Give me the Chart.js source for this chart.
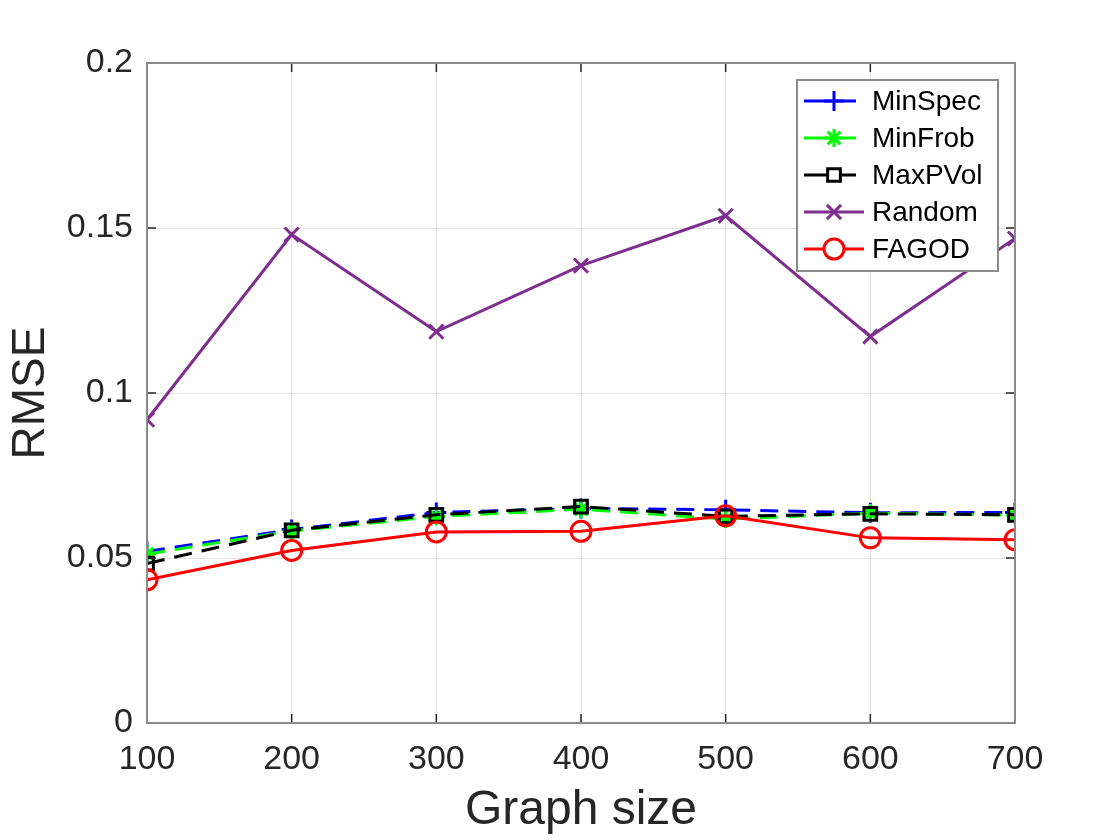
<!DOCTYPE html>
<html>
<head>
<meta charset="utf-8">
<script src="https://cdn.jsdelivr.net/npm/chart.js@4/dist/chart.umd.min.js"></script>
<style>
  html, body { margin: 0; padding: 0; background: #fff; }
  #wrap { width: 1120px; height: 840px; }
</style>
</head>
<body>
<div id="wrap"><canvas id="rmseChart" width="1120" height="840"></canvas></div>
<script>
// graph sizes (x axis)
const graphSizes = [100, 200, 300, 400, 500, 600, 700];

// RMSE per method
const minSpec = [0.0520, 0.0586, 0.0638, 0.0650, 0.0646, 0.0637, 0.0638];
const minFrob = [0.0512, 0.0582, 0.0626, 0.0648, 0.0618, 0.0636, 0.0630];
const maxPVol = [0.0483, 0.0584, 0.0631, 0.0656, 0.0626, 0.0634, 0.0631];
const randomSel = [0.0919, 0.1480, 0.1186, 0.1386, 0.1537, 0.1171, 0.1468];
const fagod = [0.0434, 0.0523, 0.0579, 0.0581, 0.0628, 0.0561, 0.0555];

// axis tick labels
const xTicks = [100, 200, 300, 400, 500, 600, 700];
const yTicks = ['0', '0.05', '0.1', '0.15', '0.2'];

const FONT = 'Helvetica, Arial, "Liberation Sans", sans-serif';
const TEXT = '#262626';

function toPoints(vals) {
    return vals.map((v, i) => ({ x: graphSizes[i], y: v }));
}

function series(label, vals, color, style, dash, order, pRadius) {
    return {
        label: label,
        data: toPoints(vals),
        borderColor: color,
        backgroundColor: color,
        borderWidth: 3,
        borderDash: dash,
        pointStyle: style,
        pointRadius: pRadius,
        pointBorderWidth: 3,
        pointBorderColor: color,
        pointBackgroundColor: 'rgba(0,0,0,0)',
        fill: false,
        tension: 0,
        order: order
    };
}

// box around the plot area + inward tick marks (matlab style)
const boxPlugin = {
    id: 'box',
    afterDatasetsDraw(chart) {
        const a = chart.chartArea;
        const ctx = chart.ctx;
        const sx = chart.scales.x, sy = chart.scales.y;
        ctx.save();
        ctx.strokeStyle = '#262626';
        ctx.lineWidth = 1.5;
        ctx.beginPath();
        xTicks.forEach(v => {
            const px = sx.getPixelForValue(v);
            ctx.moveTo(px, a.bottom); ctx.lineTo(px, a.bottom - 9);
            ctx.moveTo(px, a.top); ctx.lineTo(px, a.top + 9);
        });
        yTicks.forEach(t => {
            const py = sy.getPixelForValue(parseFloat(t));
            ctx.moveTo(a.left, py); ctx.lineTo(a.left + 9, py);
            ctx.moveTo(a.right, py); ctx.lineTo(a.right - 9, py);
        });
        ctx.stroke();
        ctx.strokeStyle = '#8a8a8a';
        ctx.lineWidth = 2;
        ctx.strokeRect(a.left, a.top, a.right - a.left, a.bottom - a.top);
        ctx.restore();
    }
};

// legend drawn inside the plot, top right
const innerLegend = {
    id: 'innerLegend',
    afterDraw(chart) {
        const ctx = chart.ctx;
        const sets = chart.data.datasets;
        const x0 = 797, y0 = 80, w = 201, h = 191;
        ctx.save();
        ctx.fillStyle = '#fff';
        ctx.fillRect(x0, y0, w, h);
        ctx.strokeStyle = '#8a8a8a';
        ctx.lineWidth = 2;
        ctx.strokeRect(x0, y0, w, h);
        ctx.font = '28px ' + FONT;
        ctx.textBaseline = 'middle';
        sets.forEach((ds, i) => {
            const cy = 101 + i * 37;
            const dashed = ds.borderDash && ds.borderDash.length;
            ctx.strokeStyle = ds.borderColor;
            ctx.lineWidth = 3;
            ctx.beginPath();
            ctx.moveTo(804, cy);
            ctx.lineTo(dashed ? 856 : 864, cy);
            ctx.stroke();
            ctx.fillStyle = '#fff';
            Chart.helpers.drawPoint(ctx, {
                pointStyle: ds.pointStyle,
                radius: ds.pointRadius,
                borderWidth: 3,
                rotation: 0
            }, 834, cy);
            ctx.fillStyle = '#000';
            ctx.fillText(ds.label, 872, cy + 1);
        });
        ctx.restore();
    }
};

const ctx = document.getElementById('rmseChart').getContext('2d');
new Chart(ctx, {
    type: 'line',
    data: {
        datasets: [
            series('MinSpec', minSpec, '#0000ff', 'cross', [18, 10], 4, 10),
            series('MinFrob', minFrob, '#00ff00', 'star', [18, 10], 3, 9),
            series('MaxPVol', maxPVol, '#000000', 'rect', [18, 10], 2, 9),
            series('Random', randomSel, '#7e2f8e', 'crossRot', [], 1, 10),
            series('FAGOD', fagod, '#ff0000', 'circle', [], 0, 10)
        ]
    },
    options: {
        responsive: false,
        animation: false,
        layout: { padding: { left: 0, top: 63, right: 105, bottom: 0 } },
        plugins: {
            legend: { display: false },
            tooltip: { enabled: false }
        },
        scales: {
            x: {
                type: 'linear',
                min: 100,
                max: 700,
                afterFit(scale) { scale.height = 117; },
                afterBuildTicks(scale) { scale.ticks = xTicks.map(v => ({ value: v })); },
                ticks: {
                    font: { size: 34, family: FONT },
                    color: TEXT,
                    padding: 16,
                    maxRotation: 0,
                    callback: v => String(v)
                },
                grid: { color: '#e3e3e3', lineWidth: 1, drawTicks: false },
                border: { display: false },
                title: {
                    display: true,
                    text: 'Graph size',
                    font: { size: 48, family: FONT },
                    color: TEXT,
                    padding: 0
                }
            },
            y: {
                type: 'linear',
                min: 0,
                max: 0.2,
                afterFit(scale) { scale.width = 147; },
                afterBuildTicks(scale) { scale.ticks = yTicks.map(t => ({ value: parseFloat(t) })); },
                ticks: {
                    font: { size: 34, family: FONT },
                    color: TEXT,
                    padding: 14,
                    callback: (v, i) => yTicks[i]
                },
                grid: { color: '#e3e3e3', lineWidth: 1, drawTicks: false },
                border: { display: false },
                title: {
                    display: true,
                    text: 'RMSE',
                    font: { size: 46, family: FONT },
                    color: TEXT,
                    padding: { top: 4, bottom: 0 }
                }
            }
        }
    },
    plugins: [boxPlugin, innerLegend]
});
</script>
</body>
</html>
